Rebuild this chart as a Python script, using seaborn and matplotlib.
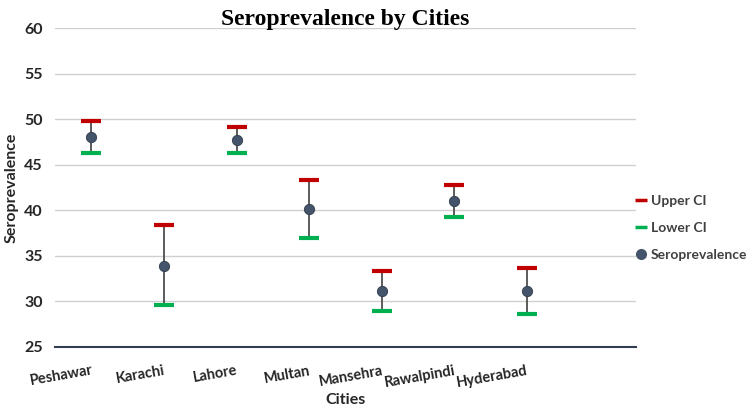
import matplotlib
matplotlib.use("Agg")
import matplotlib.pyplot as plt
from matplotlib.lines import Line2D
import numpy as np
import pandas as pd
import seaborn as sns

cities = ["Peshawar", "Karachi", "Lahore", "Multan", "Mansehra", "Rawalpindi", "Hyderabad"]
upper_ci = [49.8, 38.4, 49.1, 43.3, 33.3, 42.8, 33.7]
seroprevalence = [48.0, 33.9, 47.7, 40.1, 31.1, 41.0, 31.1]
lower_ci = [46.3, 29.6, 46.3, 37.0, 28.9, 39.3, 28.6]
y_ticks = [25, 30, 35, 40, 45, 50, 55, 60]

RED = "#C00000"
GREEN = "#00B050"
DOT = "#44546A"
TEXT = "#262626"

df = pd.DataFrame({
    "city": cities,
    "pos": np.arange(len(cities)),
    "upper": upper_ci,
    "sero": seroprevalence,
    "lower": lower_ci,
})

sns.set_style("white")
plt.rcParams["font.family"] = ["Lato", "DejaVu Sans"]

fig = plt.figure(figsize=(7.55, 4.13), dpi=100)
ax = fig.add_axes([0.073, 0.160, 0.769, 0.772])

# high-low lines
ax.vlines(df["pos"], df["lower"], df["upper"], color="#404040", lw=1.2, zorder=2)

# CI caps and point estimates
sns.scatterplot(data=df, x="pos", y="upper", marker="_", s=220, color=RED,
                linewidth=3, ax=ax, zorder=3, legend=False)
sns.scatterplot(data=df, x="pos", y="lower", marker="_", s=220, color=GREEN,
                linewidth=3, ax=ax, zorder=3, legend=False)
sns.scatterplot(data=df, x="pos", y="sero", marker="o", s=55, color=DOT,
                edgecolor="#2F3B4C", linewidth=0.6, ax=ax, zorder=4, legend=False)

ax.set_xlim(-0.5, 7.5)
ax.set_ylim(25, 60)
ax.set_yticks(y_ticks)
ax.set_xticks(df["pos"])
ax.set_xticklabels(cities, rotation=10, ha="right", rotation_mode="anchor",
                   fontsize=10.5, fontweight="bold", color=TEXT)
for lbl in ax.get_yticklabels():
    lbl.set_fontsize(11.5)
    lbl.set_fontweight("bold")
    lbl.set_color(TEXT)
ax.tick_params(axis="y", length=0, pad=9)
ax.tick_params(axis="x", length=0, pad=12)

ax.yaxis.grid(True, color="#D0D0D0", lw=1)
ax.set_axisbelow(True)
for side in ["top", "right", "left"]:
    ax.spines[side].set_visible(False)
ax.spines["bottom"].set_color("#333F50")
ax.spines["bottom"].set_linewidth(1.5)

ax.set_xlabel("Cities", fontsize=11.5, fontweight="bold", color=TEXT, labelpad=2)
ax.set_ylabel("Seroprevalence", fontsize=11.5, fontweight="bold", color=TEXT, labelpad=4)
ax.set_title("Seroprevalence by Cities", fontsize=17, fontweight="bold",
             family="Liberation Serif", color="black", pad=2)

handles = [
    Line2D([], [], color=RED, marker="_", ls="none", markersize=9, markeredgewidth=2.5),
    Line2D([], [], color=GREEN, marker="_", ls="none", markersize=9, markeredgewidth=2.5),
    Line2D([], [], color=DOT, marker="o", ls="none", markersize=7),
]
leg = fig.legend(handles, ["Upper CI", "Lower CI", "Seroprevalence"],
                 loc="center left", bbox_to_anchor=(0.842, 0.448), frameon=False,
                 borderpad=0, borderaxespad=0,
                 handlelength=0.8, handletextpad=0.3, labelspacing=1.1,
                 prop={"size": 10, "weight": "bold"})
for t in leg.get_texts():
    t.set_color("#404040")

fig.savefig("out.png", dpi=100)
